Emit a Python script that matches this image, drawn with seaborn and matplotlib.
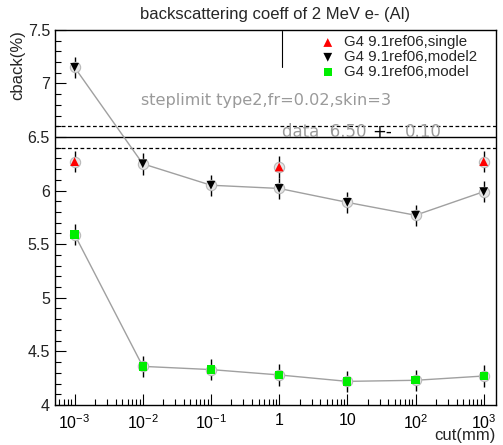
import numpy as np
import pandas as pd
import matplotlib
matplotlib.use("Agg")
import matplotlib.pyplot as plt
import matplotlib.ticker as mticker
import seaborn as sns

# ---- data ----
cuts = [1e-3, 1e-2, 1e-1, 1, 10, 100, 1000]
single_cut = [1e-3, 1, 1000]
single_val = [6.27, 6.22, 6.27]
model2_val = [7.15, 6.25, 6.05, 6.02, 5.89, 5.77, 5.99]
model_val = [5.59, 4.36, 4.33, 4.28, 4.22, 4.23, 4.27]
err = 0.10
data_val, data_err = 6.50, 0.10
xtick_vals = [1e-3, 1e-2, 1e-1, 1, 10, 100, 1000]
xtick_labels = ["10$^{-3}$", "10$^{-2}$", "10$^{-1}$", "1", "10", "10$^{2}$", "10$^{3}$"]

df_m2 = pd.DataFrame({"cut": cuts, "val": model2_val})
df_m = pd.DataFrame({"cut": cuts, "val": model_val})
df_s = pd.DataFrame({"cut": single_cut, "val": single_val})

sns.set_style("white")
plt.rcParams["font.family"] = ["Liberation Sans", "DejaVu Sans"]
plt.rcParams["mathtext.fontset"] = "custom"
plt.rcParams["mathtext.rm"] = "Liberation Sans"

fig = plt.figure(figsize=(5.03, 4.45), dpi=100)
ax = fig.add_axes([0.109, 0.09, 0.877, 0.843])

# connecting lines
sns.lineplot(data=df_m2, x="cut", y="val", ax=ax, color="#a0a0a0", lw=1, zorder=1)
sns.lineplot(data=df_m, x="cut", y="val", ax=ax, color="#a0a0a0", lw=1, zorder=1)

# error bars
for d in (df_s, df_m2, df_m):
    ax.errorbar(d["cut"], d["val"], yerr=err, fmt="none", ecolor="black", elinewidth=1, zorder=2)

# grey circles behind the markers
for d in (df_s, df_m2, df_m):
    ax.scatter(d["cut"], d["val"], s=55, facecolor="#e6e6e6", edgecolor="#b8b8b8", lw=0.8, zorder=3)

sns.scatterplot(data=df_s, x="cut", y="val", ax=ax, marker="^", color="red", s=40, edgecolor="none",
                zorder=4, label="G4 9.1ref06,single")
sns.scatterplot(data=df_m2, x="cut", y="val", ax=ax, marker="v", color="black", s=40, edgecolor="none",
                zorder=4, label="G4 9.1ref06,model2")
sns.scatterplot(data=df_m, x="cut", y="val", ax=ax, marker="s", color="#00ee00", s=36, edgecolor="none",
                zorder=4, label="G4 9.1ref06,model")

# measured value band
ax.axhline(data_val, color="black", lw=1, zorder=0)
ax.axhline(data_val + data_err, color="black", lw=0.9, ls=(0, (3, 2)), zorder=0)
ax.axhline(data_val - data_err, color="black", lw=0.9, ls=(0, (3, 2)), zorder=0)

ax.set_xscale("log")
ax.set_xlim(10 ** -3.29, 10 ** 3.18)
ax.set_ylim(4, 7.5)
ax.set_xticks(xtick_vals)
ax.set_xticklabels(xtick_labels)
ax.xaxis.set_minor_locator(mticker.LogLocator(base=10, subs=np.arange(2, 10), numticks=20))
ax.xaxis.set_minor_formatter(mticker.NullFormatter())
ax.yaxis.set_major_locator(mticker.MultipleLocator(0.5))
ax.yaxis.set_minor_locator(mticker.MultipleLocator(0.1))
ax.yaxis.set_major_formatter(mticker.FuncFormatter(lambda v, p: f"{v:g}"))
ax.tick_params(which="both", direction="in", left=True, bottom=True, top=False, right=False,
               colors="black", labelsize=11.5, width=0.8)
ax.tick_params(which="major", length=8)
ax.tick_params(which="minor", length=4)
ax.tick_params(axis="x", pad=6)
ax.tick_params(axis="y", labelcolor="#222222")
for sp in ax.spines.values():
    sp.set_color("black")
    sp.set_linewidth(1)

ax.set_xlabel("cut(mm)", fontsize=12, loc="right", labelpad=-3)
ax.set_ylabel("cback(%)", fontsize=12, loc="top", labelpad=2)
ax.set_title("backscattering coeff of 2 MeV e- (Al)", fontsize=12, pad=8, x=0.5)

# annotations
ax.text(10 ** -2.02, 6.845, "steplimit type2,fr=0.02,skin=3", color="#9a9a9a",
        fontsize=11.6, family="DejaVu Sans", va="center")
ax.text(10 ** 0.035, 6.465, "data  6.50", color="#9a9a9a", fontsize=12, family="DejaVu Sans", va="bottom")
ax.text(10 ** 1.37, 6.465, "+-", color="black", fontsize=12, family="DejaVu Sans", va="bottom")
ax.text(10 ** 1.84, 6.465, "0.10", color="#9a9a9a", fontsize=12, family="DejaVu Sans", va="bottom")

leg = ax.legend(loc="upper left", bbox_to_anchor=(0.60, 0.985), frameon=False, fontsize=10.8,
                handletextpad=0.5, labelspacing=0.05, borderaxespad=0, borderpad=0, handlelength=1.1)
# partial legend box (top and left edges as in the reference)
ax.plot([0.515, 0.515], [0.998, 0.9], transform=ax.transAxes, color="black", lw=0.8, clip_on=False)

fig.savefig("out.png", dpi=100, facecolor="white")
